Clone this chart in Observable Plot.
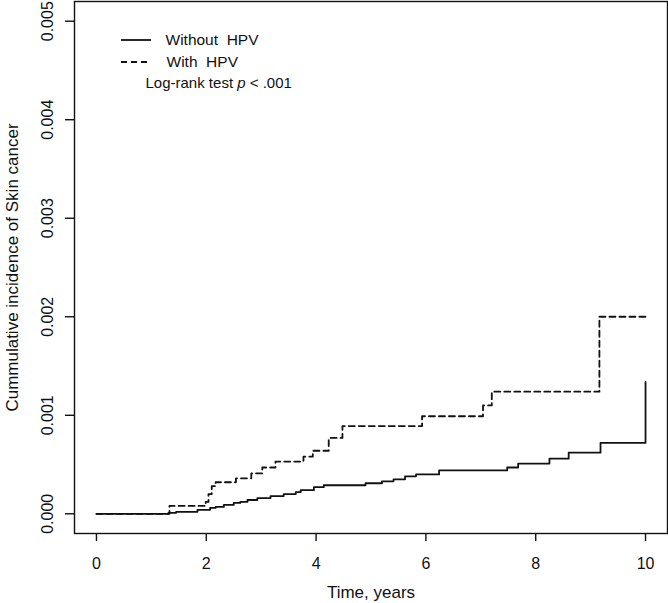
<!DOCTYPE html>
<html><head><meta charset="utf-8">
<script src="https://cdn.jsdelivr.net/npm/d3@7"></script>
<script src="https://cdn.jsdelivr.net/npm/@observablehq/plot@0.6"></script>
<style>
body{margin:0;background:#fff}
#chart svg{display:block}
</style>
</head><body><div id="chart"></div>
<script>
// ---- data ----
const timeWithout = [0, 1.31, 1.45, 1.84, 2.07, 2.17, 2.32, 2.5, 2.62, 2.75, 2.93, 3.17, 3.41, 3.63, 3.72, 3.96, 4.14, 4.9, 5.2, 5.41, 5.62, 5.82, 6.24, 7.48, 7.68, 8.25, 8.6, 9.18, 10.0];
const incWithout  = [0, 0.00001, 0.00002, 0.00004, 0.00006, 0.00007, 0.00009, 0.00011, 0.00012, 0.00014, 0.00016, 0.00018, 0.0002, 0.00022, 0.00024, 0.00027, 0.00029, 0.00031, 0.00033, 0.00035, 0.00038, 0.0004, 0.00044, 0.00047, 0.00051, 0.00056, 0.00062, 0.00072, 0.00134];
const timeWith = [0, 1.33, 1.99, 2.04, 2.1, 2.17, 2.54, 2.82, 3.02, 3.26, 3.77, 3.94, 4.23, 4.48, 5.93, 7.04, 7.2, 9.16, 10.0];
const incWith  = [0, 0.00008, 0.00012, 0.0002, 0.00028, 0.00032, 0.00036, 0.00041, 0.00047, 0.00053, 0.00058, 0.00064, 0.00077, 0.00089, 0.00099, 0.0011, 0.00124, 0.002, 0.002];
const seriesNames = ["Without\u00a0 HPV", "With\u00a0 HPV"];
const xTicks = [0, 2, 4, 6, 8, 10];
const yTicks = [0, 0.001, 0.002, 0.003, 0.004, 0.005];
const yTickLabels = ["0.000", "0.001", "0.002", "0.003", "0.004", "0.005"];
const xTitle = "Time, years";
const yTitle = "Cummulative incidence of Skin cancer";
const testNote = "Log-rank test p < .001";

const rowsWithout = timeWithout.map((t, i) => ({t, inc: incWithout[i]}));
const rowsWith = timeWith.map((t, i) => ({t, inc: incWith[i]}));

const ink = "#111";
const chart = Plot.plot({
  width: 668,
  height: 603,
  marginLeft: 74,
  marginRight: 1,
  marginTop: 1,
  marginBottom: 70,
  x: {domain: [-0.4, 10.4]},
  y: {domain: [-0.0002, 0.0052]},
  style: {fontFamily: "'Liberation Sans', Arial, Helvetica, sans-serif", fontSize: "16px", color: ink, background: "#fff"},
  marks: [
    Plot.frame({stroke: ink, strokeWidth: 1.4}),
    Plot.axisX(xTicks, {tickSize: 8, tickPadding: 16, fontSize: 16, label: null, strokeWidth: 1.4, tickFormat: d => String(d)}),
    Plot.axisY(yTicks, {tickSize: 9, strokeWidth: 1.4, label: null, tickFormat: () => ""}),
    Plot.text(yTicks, {y: d => d, text: (d, i) => yTickLabels[i], frameAnchor: "left", dx: -27, rotate: -90, textAnchor: "middle", lineAnchor: "middle", fontSize: 16, fill: ink}),
    Plot.text([xTitle], {frameAnchor: "bottom", dy: 59, lineAnchor: "middle", fontSize: 17, fill: ink}),
    Plot.text([yTitle], {frameAnchor: "left", dx: -62, rotate: -90, textAnchor: "middle", lineAnchor: "middle", fontSize: 17, fill: ink}),
    Plot.line(rowsWithout, {x: "t", y: "inc", curve: "step-after", stroke: ink, strokeWidth: 1.8}),
    Plot.line(rowsWith, {x: "t", y: "inc", curve: "step-after", stroke: ink, strokeWidth: 1.8, strokeDasharray: "6,4"}),
    Plot.text([seriesNames[0]], {frameAnchor: "top-left", dx: 91, dy: 39, textAnchor: "start", lineAnchor: "middle", fontSize: 15.5, fill: ink}),
    Plot.text([seriesNames[1]], {frameAnchor: "top-left", dx: 92, dy: 61, textAnchor: "start", lineAnchor: "middle", fontSize: 15.5, fill: ink}),
    Plot.text([testNote], {frameAnchor: "top-left", dx: 71, dy: 82, textAnchor: "start", lineAnchor: "middle", fontSize: 15, fill: ink})
  ]
});
document.getElementById("chart").appendChild(chart);

// legend line samples and italic p
const svg = d3.select(chart);
const g = svg.append("g").attr("stroke", ink).attr("stroke-width", 1.8);
g.append("line").attr("x1", 121).attr("x2", 151).attr("y1", 40).attr("y2", 40);
g.append("line").attr("x1", 121).attr("x2", 151).attr("y1", 62).attr("y2", 62).attr("stroke-dasharray", "6,4");
svg.selectAll("text").filter(function() { return this.textContent === testNote; }).each(function() {
  const el = d3.select(this);
  el.text(null);
  el.append("tspan").text("Log-rank test ");
  el.append("tspan").attr("font-style", "italic").text("p");
  el.append("tspan").text(" < .001");
});
</script></body></html>
